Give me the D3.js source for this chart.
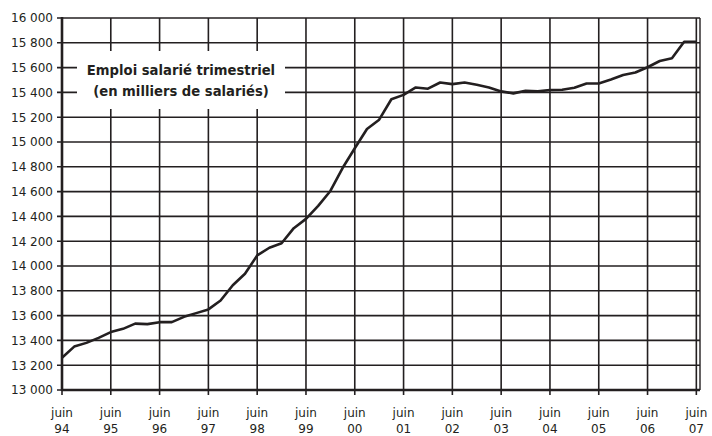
<!DOCTYPE html>
<html>
<head>
<meta charset="utf-8">
<script src="https://cdn.jsdelivr.net/npm/d3@7"></script>
<style>
  body { margin: 0; background: #fff; }
  svg { display: block; }
</style>
</head>
<body>
<div id="chart"></div>
<script>
// emploi salarié trimestriel, milliers, de juin 94 à juin 07 (un point par trimestre)
const emploi = [
  13260, 13350, 13380, 13420, 13467, 13493, 13535, 13531, 13547, 13547, 13590, 13620,
  13650, 13722, 13845, 13937, 14085, 14147, 14183, 14305, 14380, 14485, 14605, 14790,
  14950, 15105, 15180, 15345, 15380, 15440, 15430, 15480, 15467, 15480, 15461, 15440,
  15408, 15392, 15413, 15408, 15419, 15421, 15437, 15472, 15472, 15504, 15541, 15560,
  15603, 15653, 15675, 15808, 15808
];
const anneeLabels = ["94", "95", "96", "97", "98", "99", "00", "01", "02", "03", "04", "05", "06", "07"];
const yTicks = d3.range(13000, 16001, 200);
const titre = ["Emploi salarié trimestriel", "(en milliers de salariés)"];

const width = 712, height = 436;
const margin = { left: 62, top: 18, right: 12, bottom: 46 };

const svg = d3.select("#chart").append("svg")
  .attr("width", width)
  .attr("height", height)
  .style("font-family", "'DejaVu Sans', sans-serif");

const x = d3.scaleLinear()
  .domain([0, 52.3])
  .range([margin.left, width - margin.right]);
const y = d3.scaleLinear()
  .domain([13000, 16000])
  .range([height - margin.bottom, margin.top]);

const col = "#231f20";

// grille horizontale
svg.append("g")
  .selectAll("line")
  .data(yTicks)
  .join("line")
  .attr("x1", x(0) - 5)
  .attr("x2", x(52.3))
  .attr("y1", d => y(d))
  .attr("y2", d => y(d))
  .attr("stroke", col)
  .attr("stroke-width", 1.6);

// grille verticale (chaque juin)
svg.append("g")
  .selectAll("line")
  .data(anneeLabels)
  .join("line")
  .attr("x1", (d, i) => x(i * 4))
  .attr("x2", (d, i) => x(i * 4))
  .attr("y1", y(16000))
  .attr("y2", y(13000) + 5)
  .attr("stroke", col)
  .attr("stroke-width", 1.6);

// bord droit
svg.append("line")
  .attr("x1", x(52.3)).attr("x2", x(52.3))
  .attr("y1", y(16000)).attr("y2", y(13000))
  .attr("stroke", col)
  .attr("stroke-width", 1.4);

// axes épais
svg.append("line")
  .attr("x1", x(0)).attr("x2", x(0))
  .attr("y1", y(16000) - 1).attr("y2", y(13000) + 1)
  .attr("stroke", col)
  .attr("stroke-width", 2.6);
svg.append("line")
  .attr("x1", x(0)).attr("x2", x(52.3))
  .attr("y1", y(13000)).attr("y2", y(13000))
  .attr("stroke", col)
  .attr("stroke-width", 2.4);

// étiquettes Y
svg.append("g")
  .selectAll("text")
  .data(yTicks)
  .join("text")
  .attr("x", x(0) - 9)
  .attr("y", d => y(d))
  .attr("dy", "0.36em")
  .attr("text-anchor", "end")
  .attr("font-size", 12)
  .attr("fill", col)
  .text(d => d3.format(",")(d).replace(",", " "));

// étiquettes X
const xl = svg.append("g")
  .selectAll("text")
  .data(anneeLabels)
  .join("text")
  .attr("x", (d, i) => x(i * 4))
  .attr("y", 417)
  .attr("text-anchor", "middle")
  .attr("font-size", 12)
  .attr("fill", col);
xl.append("tspan").attr("x", (d, i) => x(i * 4)).text("juin");
xl.append("tspan").attr("x", (d, i) => x(i * 4)).attr("dy", 16).text(d => d);

// la courbe
const line = d3.line()
  .x((d, i) => x(i))
  .y(d => y(d));
svg.append("path")
  .datum(emploi)
  .attr("d", line)
  .attr("fill", "none")
  .attr("stroke", col)
  .attr("stroke-width", 2.6)
  .attr("stroke-linejoin", "round");

// cartouche titre
svg.append("rect")
  .attr("x", 77).attr("y", 51)
  .attr("width", 208).attr("height", 58)
  .attr("fill", "#fff");
svg.append("g")
  .selectAll("text")
  .data(titre)
  .join("text")
  .attr("x", 181)
  .attr("y", (d, i) => 75 + i * 21)
  .attr("text-anchor", "middle")
  .attr("font-size", 13.2)
  .attr("font-weight", "bold")
  .attr("fill", col)
  .text(d => d);
</script>
</body>
</html>
